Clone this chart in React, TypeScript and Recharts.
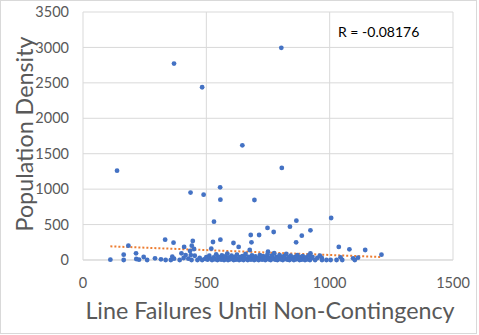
import React from 'react';
import { ScatterChart, Scatter, XAxis, YAxis, CartesianGrid, ReferenceLine } from 'recharts';

const xTicks = [0, 500, 1000, 1500];
const yTicks = [0, 500, 1000, 1500, 2000, 2500, 3000, 3500];

const highX = [138, 369, 483, 804, 646, 806, 556, 489, 436, 557, 695, 531, 865, 839, 922, 773, 748, 680, 714, 683, 887, 864, 527, 557, 610, 631, 676, 520, 750, 922, 333, 367, 445, 184, 215, 165, 410, 399, 441, 434, 450, 1006, 1037, 1080, 1144, 1210];
const highY = [1261, 2772, 2438, 2994, 1619, 1299, 1026, 922, 951, 852, 847, 541, 555, 470, 419, 395, 452, 353, 353, 250, 343, 250, 254, 287, 240, 184, 141, 160, 117, 94, 287, 245, 268, 202, 94, 75, 184, 94, 202, 127, 155, 593, 184, 151, 141, 75];

const lowX = [111, 165, 216, 227, 246, 260, 292, 316, 335, 356, 362, 369, 392, 408, 416, 427, 437, 440, 453, 464, 473, 483,
  495, 500, 505, 512, 518, 523, 530, 535, 540, 545, 548, 553, 560, 563, 568, 572, 576, 580, 585, 588, 592, 597, 602, 606, 611, 615, 620, 624, 628, 633, 637, 642, 646, 651, 655, 659, 663, 668, 672, 676, 681, 685, 690, 694, 699, 703, 708, 712, 717, 721, 726, 730, 735, 739, 744, 748, 752, 757, 761, 766, 770, 775, 779, 784, 788, 792, 797, 801, 806, 810, 815, 819, 824, 828, 833, 837, 842, 846, 851, 855, 860, 864, 869, 873, 878, 882, 887, 891, 896, 900, 905, 910, 915, 920, 925, 930, 941, 950, 960, 968, 969, 987, 1004, 1028, 1044, 1051, 1095, 1102, 1115];
const lowY = [4, 0, 14, 4, 42, 0, 24, 10, 0, 0, 47, 18, 0, 28, 70, 18, 70, 0, 60, 0, 28, 0,
  15, 40, 5, 60, 20, 0, 35, 10, 80, 0, 45, 20, 5, 65, 30, 0, 50, 15, 90, 0, 35, 10, 60, 25, 0, 45, 5, 75, 20, 0, 40, 10, 55, 0, 30, 85, 15, 0, 45, 20, 5, 65, 30, 0, 50, 12, 25, 0, 70, 35, 5, 55, 15, 0, 40, 80, 10, 30, 0, 60, 20, 95, 5, 45, 0, 25, 70, 10, 40, 0, 55, 20, 85, 5, 35, 0, 60, 15, 30, 0, 45, 10, 70, 25, 0, 40, 5, 55, 20, 0, 35, 10, 65, 0, 25, 45, 0, 28, 60, 28, 0, 0, 0, 0, 38, 0, 24, 0, 33];

const trendX = [111, 1210];
const trendY = [193, 42];

const points = [
  ...highX.map((x, i) => ({ x, y: highY[i] })),
  ...lowX.map((x, i) => ({ x, y: lowY[i] })),
];

const FONT = 'Lato, "Liberation Sans", sans-serif';
const GRID = '#D9D9D9';
const TXT = '#595959';

const Dot = (p: any) => <circle cx={p.cx} cy={p.cy} r={2.4} fill="#4472C4" />;

export default function App() {
  return (
    <div style={{ position: 'fixed', left: 0, top: 0, width: 479, height: 335, background: '#fff' }}>
      <ScatterChart width={479} height={335} margin={{ top: 12, right: 26, bottom: 0, left: 0 }}>
        <CartesianGrid stroke={GRID} vertical={true} horizontal={true} />
        <XAxis
          type="number"
          dataKey="x"
          domain={[0, 1500]}
          ticks={xTicks}
          height={75}
          axisLine={{ stroke: GRID }}
          tickLine={false}
          tickSize={0}
          tickMargin={18}
          tick={{ fill: TXT, fontSize: 14.5, fontFamily: FONT }}
        />
        <YAxis
          type="number"
          dataKey="y"
          domain={[0, 3500]}
          ticks={yTicks}
          width={83}
          axisLine={false}
          tickLine={false}
          tickSize={0}
          tickMargin={14}
          tick={{ fill: TXT, fontSize: 14.5, fontFamily: FONT }}
        />
        <ReferenceLine
          segment={[{ x: trendX[0], y: trendY[0] }, { x: trendX[1], y: trendY[1] }]}
          stroke="#ED7D31"
          strokeWidth={2}
          strokeDasharray="2 2"
          ifOverflow="visible"
        />
        <Scatter data={points} shape={Dot} isAnimationActive={false} />
      </ScatterChart>
      <svg width={479} height={335} style={{ position: 'absolute', left: 0, top: 0, pointerEvents: 'none' }}>
        <rect x={0.5} y={0.5} width={476} height={333} fill="none" stroke={GRID} />
        <text x={338} y={37} fontFamily={FONT} fontSize={14} fill="#000">R = -0.08176</text>
        <text x={270} y={319} textAnchor="middle" fontFamily={FONT} fontSize={23.3} fill={TXT}>Line Failures Until Non-Contingency</text>
        <text transform="translate(33,134) rotate(-90)" textAnchor="middle" fontFamily={FONT} fontSize={23.3} fill={TXT}>Population Density</text>
      </svg>
    </div>
  );
}
